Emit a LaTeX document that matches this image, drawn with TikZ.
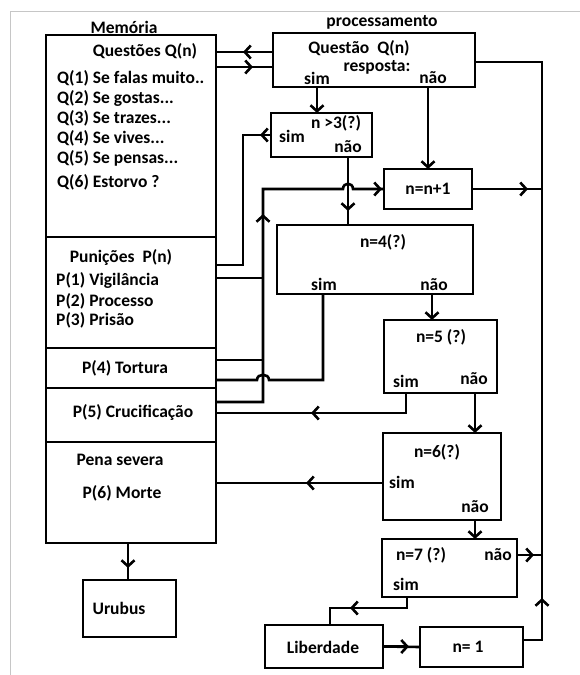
\documentclass[tikz,border=0pt]{standalone}
\usepackage{fontspec}
\setmainfont{Carlito}
\usetikzlibrary{arrows.meta}
\tikzset{
  box/.style 2 args={draw, line width=2.6pt, anchor=north west, inner sep=0pt, outer sep=0pt, minimum width=#1pt, minimum height=#2pt},
  lbl/.style={font=\bfseries\fontsize{17.5}{19}\selectfont, inner sep=0pt},
  lbll/.style={lbl, anchor=west},
  conn/.style={line width=2.6pt},
  arr/.style={conn, -{Straight Barb[length=6pt,width=13pt]}},
}
\begin{document}
\begin{tikzpicture}[x=1pt,y=-1pt]
\useasboundingbox (0,0) rectangle (580,675);
\draw[gray!45, line width=1pt] (10,675) -- (10,11) -- (580,11);

% boxes
\node[box={170}{508}] (mem) at (46,35) {};
\node[box={202}{54}] (q) at (273,33) {};
\node[box={101}{44}] (g3) at (271,113) {};
\node[box={88}{40}] (inc) at (384,169) {};
\node[box={196}{69}] (e4) at (277,225) {};
\node[box={113}{73}] (e5) at (384,320) {};
\node[box={118}{87}] (e6) at (383,433) {};
\node[box={135}{58}] (e7) at (382,539) {};
\node[box={118}{43}] (lib) at (265,625) {};
\node[box={103}{40}] (one) at (420,627) {};
\node[box={93}{57}] (uru) at (83,580) {};

% memory dividers
\foreach \yy in {237,348,388,442}
  \draw[conn] (mem.west |- 0,\yy) -- (mem.east |- 0,\yy);

% texts
\node[lbl] (tmem) at (124,27) {Memória};
\node[lbl] (tproc) at (382,22) {processamento};
\node[lbl] (tqs) at (145,51) {Questões Q(n)};
\node[lbll] (tq1) at (57,78) {Q(1) Se falas muito..};
\node[lbll] (tq2) at (57,98) {Q(2) Se gostas...};
\node[lbll] (tq3) at (57,118) {Q(3) Se trazes...};
\node[lbll] (tq4) at (57,138) {Q(4) Se vives...};
\node[lbll] (tq5) at (57,158) {Q(5) Se pensas...};
\node[lbll] (tq6) at (57,182) {Q(6) Estorvo ?};
\node[lbl] (tpn) at (121,257) {Punições\ \ P(n)};
\node[lbll] (tp1) at (56,280) {P(1) Vigilância};
\node[lbll] (tp2) at (56,301) {P(2) Processo};
\node[lbll] (tp3) at (56,320) {P(3) Prisão};
\node[lbl] (tp4) at (125,368) {P(4) Tortura};
\node[lbl] (tp5) at (133,412) {P(5) Crucificação};
\node[lbl] (tps) at (120,460) {Pena severa};
\node[lbl] (tp6) at (122,493) {P(6) Morte};
\node[lbl] (turu) at (119,608) {Urubus};

\node[lbl] (tqq) at (359,48) {Questão\ \ Q(n)};
\node[lbl] (tresp) at (377,67) {resposta:};
\node[lbl] (tqsim) at (317,78) {sim};
\node[lbl] (tqnao) at (433,78) {não};
\node[lbl] (tg3) at (336,123) {n >3(?)};
\node[lbl] (tg3s) at (292,136) {sim};
\node[lbl] (tg3n) at (348,147) {não};
\node[lbl] (tinc) at (428,189) {n=n+1};
\node[lbl] (te4) at (383,242) {n=4(?)};
\node[lbl] (te4s) at (324,284) {sim};
\node[lbl] (te4n) at (434,285) {não};
\node[lbl] (te5) at (441,337) {n=5 (?)};
\node[lbl] (te5s) at (406,381) {sim};
\node[lbl] (te5n) at (474,379) {não};
\node[lbl] (te6) at (437,452) {n=6(?)};
\node[lbl] (te6s) at (402,482) {sim};
\node[lbl] (te6n) at (475,507) {não};
\node[lbl] (te7) at (421,555) {n=7 (?)};
\node[lbl] (te7n) at (498,555) {não};
\node[lbl] (te7s) at (406,584) {sim};
\node[lbl] (tlib) at (323,647) {Liberdade};
\node[lbl] (tone) at (468,647) {n= 1};

% memory <-> questao
\draw[conn] (q.west |- 0,52) -- (mem.east |- 0,52);
\draw[arr] (q.west |- 0,52) -- (243,52);
\draw[conn] (mem.east |- 0,67) -- (q.west |- 0,67);
\draw[arr] (mem.east |- 0,67) -- (253,67);

% questao sim / nao
\draw[arr] (q.south -| 317,0) -- (g3.north -| 317,0);
\draw[arr] (q.south -| 428,0) -- (inc.north -| 428,0);

% n>3 nao -> n=4
\draw[conn] (g3.south -| 348,0) -- (e4.north -| 348,0);
\draw[arr] (g3.south -| 348,0) -- (348,211);

% n>3 sim -> punicoes
\draw[conn] (g3.west |- 0,135) -- (243,135) -- (243,265) -- (mem.east |- 0,265);
\draw[arr] (g3.west |- 0,135) -- (260,135);

% punishments -> n=n+1
\draw[conn] (mem.east |- 0,402) -- (263,402) -- (263,189) -- (343,189)
   .. controls (343,182) and (353,182) .. (353,189) -- (inc.west);
\draw[arr] (263,402) -- (263,214);
\draw[arr] (353,189) -- (382,189);
\draw[conn] (mem.east |- 0,278) -- (263,278);
\draw[conn] (mem.east |- 0,360) -- (263,360);

% n=4 sim -> tortura
\draw[conn] (e4.south -| 323,0) -- (323,380) -- (269,380)
   .. controls (269,373) and (257,373) .. (257,380) -- (mem.east |- 0,380);

% n=4 nao -> n=5
\draw[arr] (e4.south -| 432,0) -- (e5.north -| 432,0);
% n=5 sim -> crucificacao
\draw[conn] (e5.south -| 406,0) -- (406,413) -- (mem.east |- 0,413);
\draw[arr] (406,413) -- (311,413);
% n=5 nao -> n=6
\draw[arr] (e5.south -| 475,0) -- (e6.north -| 475,0);
% n=6 sim -> morte
\draw[conn] (e6.west |- 0,483) -- (mem.east |- 0,483);
\draw[arr] (e6.west |- 0,483) -- (306,483);
% n=6 nao -> n=7
\draw[arr] (e6.south -| 475,0) -- (e7.north -| 475,0);

% n=n+1 -> right bus
\draw[conn] (inc.east) -- (542,189);
\draw[arr] (inc.east) -- (528,189);
% n=7 nao -> right bus
\draw[conn] (e7.east |- 0,555) -- (542,555);
\draw[arr] (e7.east |- 0,555) -- (534,555);

% n=7 sim -> liberdade
\draw[conn] (e7.south -| 407,0) -- (407,608) -- (330,608) -- (lib.north -| 330,0);
\draw[arr] (407,608) -- (350,608);
% liberdade -> n=1
\draw[conn] (lib.east) -- (one.west);
\draw[arr] (lib.east) -- (409,646.5);
% n=1 -> back to questao
\draw[conn] (one.east |- 0,640) -- (542,640) -- (542,62) -- (q.east |- 0,62);
\draw[arr] (542,640) -- (542,598);

% memory -> urubus
\draw[conn] (mem.south -| 128,0) -- (uru.north -| 128,0);
\draw[arr] (mem.south -| 128,0) -- (128,568);
\end{tikzpicture}
\end{document}
